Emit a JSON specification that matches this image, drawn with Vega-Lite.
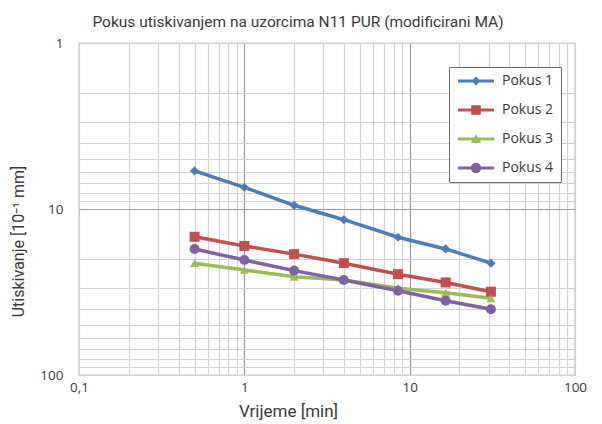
{
  "$schema": "https://vega.github.io/schema/vega-lite/v6.json",
  "width": 496,
  "height": 332,
  "autosize": {"type": "none"},
  "padding": {"left": 79, "top": 43, "right": 27, "bottom": 49},
  "background": "white",
  "config": {
    "font": "Roboto",
    "view": {"stroke": "#8a8a8a", "strokeWidth": 1.2}
  },
  "title": {
    "text": "Pokus utiskivanjem na uzorcima N11 PUR (modificirani MA)",
    "fontSize": 15.5,
    "fontWeight": "normal",
    "color": "#3a3a3a",
    "anchor": "middle",
    "dx": -29,
    "offset": 6
  },
  "data": {
    "values": [
      {"serija": "Pokus 1", "t": 0.5, "u": 5.9},
      {"serija": "Pokus 1", "t": 1, "u": 7.4},
      {"serija": "Pokus 1", "t": 2, "u": 9.5},
      {"serija": "Pokus 1", "t": 4, "u": 11.6},
      {"serija": "Pokus 1", "t": 8.5, "u": 14.8},
      {"serija": "Pokus 1", "t": 16.5, "u": 17.4},
      {"serija": "Pokus 1", "t": 31, "u": 21.2},
      {"serija": "Pokus 2", "t": 0.5, "u": 14.7},
      {"serija": "Pokus 2", "t": 1, "u": 16.7},
      {"serija": "Pokus 2", "t": 2, "u": 18.7},
      {"serija": "Pokus 2", "t": 4, "u": 21.2},
      {"serija": "Pokus 2", "t": 8.5, "u": 24.7},
      {"serija": "Pokus 2", "t": 16.5, "u": 27.7},
      {"serija": "Pokus 2", "t": 31, "u": 31.5},
      {"serija": "Pokus 3", "t": 0.5, "u": 21.2},
      {"serija": "Pokus 3", "t": 1, "u": 23.3},
      {"serija": "Pokus 3", "t": 2, "u": 25.6},
      {"serija": "Pokus 3", "t": 4, "u": 26.8},
      {"serija": "Pokus 3", "t": 8.5, "u": 30.0},
      {"serija": "Pokus 3", "t": 16.5, "u": 32.0},
      {"serija": "Pokus 3", "t": 31, "u": 34.5},
      {"serija": "Pokus 4", "t": 0.5, "u": 17.4},
      {"serija": "Pokus 4", "t": 1, "u": 20.3},
      {"serija": "Pokus 4", "t": 2, "u": 23.5},
      {"serija": "Pokus 4", "t": 4, "u": 26.8},
      {"serija": "Pokus 4", "t": 8.5, "u": 31.1},
      {"serija": "Pokus 4", "t": 16.5, "u": 35.7},
      {"serija": "Pokus 4", "t": 31, "u": 40.2}
    ]
  },
  "encoding": {
    "x": {
      "field": "t",
      "type": "quantitative",
      "scale": {"type": "log", "domain": [0.1, 100], "nice": false},
      "axis": {
        "title": "Vrijeme [min]",
        "titleFontSize": 17,
        "titleFontWeight": "normal",
        "titleColor": "#3a3a3a",
        "titleX": 209,
        "titlePadding": 10,
        "values": [0.1,0.2,0.3,0.4,0.5,0.6,0.7,0.8,0.9,1,2,3,4,5,6,7,8,9,10,20,30,40,50,60,70,80,90,100],
        "labelExpr": "datum.value == 0.1 ? '0,1' : (datum.value == 1 ? '1' : (datum.value == 10 ? '10' : (datum.value == 100 ? '100' : '')))",
        "labelFont": "Open Sans",
        "labelFontSize": 13.5,
        "labelColor": "#3a3a3a",
        "labelPadding": 5,
        "labelFlush": false,
        "labelOverlap": false,
        "ticks": false,
        "domain": false,
        "grid": true,
        "gridColor": {"condition": {"test": "datum.value == 1 || datum.value == 10", "value": "#9a9a9a"}, "value": "#d2d2d2"},
        "gridWidth": 1.2
      }
    },
    "y": {
      "field": "u",
      "type": "quantitative",
      "scale": {"type": "log", "domain": [1, 100], "nice": false, "reverse": true},
      "axis": {
        "title": "Utiskivanje [10⁻¹ mm]",
        "titleFontSize": 16,
        "titleFontWeight": "normal",
        "titleColor": "#3a3a3a",
        "titleX": -61,
        "titleY": 198,
        "titleBaseline": "middle",
        "values": [1,2,3,4,5,6,7,8,9,10,20,30,40,50,60,70,80,90,100],
        "labelExpr": "datum.value == 1 ? '1' : (datum.value == 10 ? '10' : (datum.value == 100 ? '100' : ''))",
        "labelFont": "Open Sans",
        "labelFontSize": 13.5,
        "labelColor": "#3a3a3a",
        "labelPadding": 16,
        "labelFlush": false,
        "labelOverlap": false,
        "ticks": false,
        "domain": false,
        "grid": true,
        "gridColor": {"condition": {"test": "datum.value == 10", "value": "#9a9a9a"}, "value": "#d2d2d2"},
        "gridWidth": 1.2
      }
    },
    "color": {
      "field": "serija",
      "type": "nominal",
      "scale": {
        "domain": ["Pokus 1", "Pokus 2", "Pokus 3", "Pokus 4"],
        "range": ["#4a7ebb", "#c0504d", "#9bbb59", "#7f62a1"]
      },
      "legend": {
        "title": null,
        "orient": "none",
        "legendX": 370,
        "legendY": 24,
        "strokeColor": "#6a6a6a",
        "fillColor": "white",
        "padding": 7,
        "symbolSize": 64,
        "symbolOffset": 13,
        "labelOffset": 19,
        "rowPadding": 15,
        "labelFont": "Open Sans",
        "labelFontSize": 14,
        "labelColor": "#3a3a3a",
        "symbolOpacity": 1,
        "encode": {
          "symbols": {
            "update": {
              "shape": {"signal": "datum.value == 'Pokus 1' ? 'M-4.5,-0.4H4.5V0.4H-4.5Z M0,-1.1L1.1,0L0,1.1L-1.1,0Z' : (datum.value == 'Pokus 2' ? 'M-4.5,-0.4H4.5V0.4H-4.5Z M-1.2,-1.2H1.2V1.2H-1.2Z' : (datum.value == 'Pokus 3' ? 'M-4.5,-0.4H4.5V0.4H-4.5Z M0,-1.2L1.3,1L-1.3,1Z' : 'M-4.5,-0.4H4.5V0.4H-4.5Z M-1.3,0A1.3,1.3,0,1,1,1.3,0A1.3,1.3,0,1,1,-1.3,0Z'))"},
              "fill": {"signal": "scale('color', datum.value)"},
              "strokeWidth": {"value": 0},
              "size": {"value": 64}
            }
          }
        }
      }
    }
  },
  "layer": [
    {"mark": {"type": "line", "strokeWidth": 3.5}},
    {
      "transform": [{"filter": "datum.serija == 'Pokus 1'"}],
      "mark": {"type": "point", "filled": true, "opacity": 1, "shape": "diamond", "size": 85}
    },
    {
      "transform": [{"filter": "datum.serija == 'Pokus 2'"}],
      "mark": {"type": "point", "filled": true, "opacity": 1, "shape": "square", "size": 100}
    },
    {
      "transform": [{"filter": "datum.serija == 'Pokus 3'"}],
      "mark": {"type": "point", "filled": true, "opacity": 1, "shape": "triangle-up", "size": 80}
    },
    {
      "transform": [{"filter": "datum.serija == 'Pokus 4'"}],
      "mark": {"type": "point", "filled": true, "opacity": 1, "shape": "circle", "size": 100}
    }
  ]
}
